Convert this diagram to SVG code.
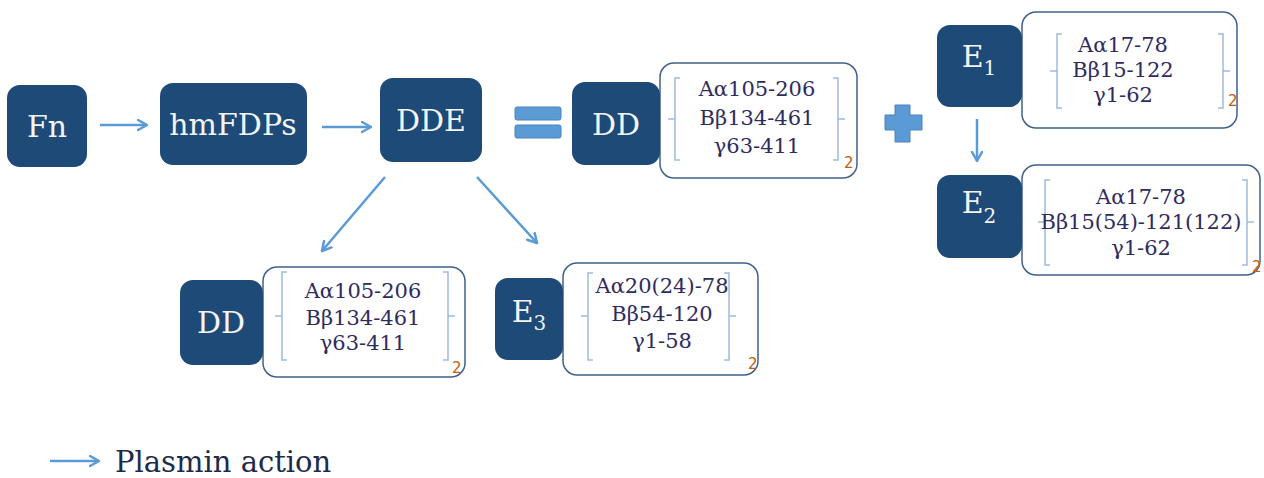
<svg xmlns="http://www.w3.org/2000/svg" width="1264" height="478" viewBox="0 0 1264 478">
<style>
.node{fill:#1e4a78;}
.lbl{font-family:"DejaVu Serif",serif;font-size:30px;fill:#f4f4f4;text-anchor:middle;}
.box{fill:#ffffff;stroke:#41618a;stroke-width:1.5;}
.br{fill:none;stroke:#9dbbe0;stroke-width:1.5;}
.seq{font-family:"DejaVu Serif",serif;font-size:21px;fill:#2f2b5e;text-anchor:middle;}
.sub2{font-family:"DejaVu Sans",sans-serif;font-size:15px;fill:#c55a11;}
.arr{fill:none;stroke:#5b9bd5;stroke-width:2.5;marker-end:url(#ah);}
.sym{fill:#5b9bd5;stroke:#4a82bd;stroke-width:1;}
.leg{font-family:"DejaVu Serif",serif;font-size:29px;fill:#1e2a4a;}
</style>
<defs>
<marker id="ah" markerUnits="userSpaceOnUse" markerWidth="14" markerHeight="14" refX="10" refY="6" orient="auto">
<path d="M1,1 L10,6 L1,11" fill="none" stroke="#5b9bd5" stroke-width="2.5" stroke-linecap="round" stroke-linejoin="round"/>
</marker>
</defs>
<rect width="1264" height="478" fill="#ffffff"/>

<g id="connectors">
<line class="arr" x1="100" y1="125" x2="147" y2="125"/>
<line class="arr" x1="322" y1="127" x2="371" y2="127"/>
<line class="arr" x1="385" y1="177" x2="322" y2="251"/>
<line class="arr" x1="477" y1="177" x2="537" y2="243"/>
<line class="arr" x1="977" y1="119" x2="977" y2="161"/>
</g>

<g id="Fn">
<rect class="node" x="7" y="85" width="80" height="82" rx="13"/>
<text class="lbl" x="47" y="137">Fn</text>
</g>

<g id="hmFDPs">
<rect class="node" x="160" y="83" width="147" height="82" rx="13"/>
<text class="lbl" x="233" y="135">hmFDPs</text>
</g>

<g id="DDE">
<rect class="node" x="380" y="78" width="102" height="84" rx="13"/>
<text class="lbl" x="431" y="131">DDE</text>
</g>

<g id="equals">
<rect class="sym" x="515" y="107" width="46" height="13" rx="2"/>
<rect class="sym" x="515" y="125" width="46" height="13" rx="2"/>
</g>

<g id="DD-top">
<rect class="box" x="660" y="63" width="197" height="115" rx="14"/>
<rect class="node" x="572" y="82" width="88" height="83" rx="13"/>
<text class="lbl" x="616" y="135">DD</text>
<path class="br" d="M680,78 H675 V160 H680 M675,119 H668 M833,78 H838 V160 H833 M838,119 H845"/>
<text class="seq" x="757" y="96">Aα105-206</text>
<text class="seq" x="757" y="125">Bβ134-461</text>
<text class="seq" x="757" y="153">γ63-411</text>
<text class="sub2" x="844" y="168">2</text>
</g>

<g id="plus">
<path class="sym" d="M895,105 H910 V115 H922 V130 H910 V142 H895 V130 H885 V115 H895 Z"/>
</g>

<g id="E1">
<rect class="box" x="1022" y="12" width="215" height="116" rx="14"/>
<rect class="node" x="937" y="25" width="85" height="82" rx="13"/>
<text class="lbl" x="979" y="67">E<tspan font-size="20" dy="8">1</tspan></text>
<path class="br" d="M1062,34 H1057 V108 H1062 M1057,71 H1050 M1218,34 H1223 V108 H1218 M1223,71 H1230"/>
<text class="seq" x="1123" y="52">Aα17-78</text>
<text class="seq" x="1123" y="77">Bβ15-122</text>
<text class="seq" x="1123" y="102">γ1-62</text>
<text class="sub2" x="1228" y="106">2</text>
</g>

<g id="E2">
<rect class="box" x="1022" y="165" width="238" height="110" rx="14"/>
<rect class="node" x="937" y="175" width="85" height="83" rx="13"/>
<text class="lbl" x="979" y="213">E<tspan font-size="20" dy="10">2</tspan></text>
<path class="br" d="M1050,180 H1045 V265 H1050 M1045,222 H1038 M1242,180 H1247 V265 H1242 M1247,222 H1254"/>
<text class="seq" x="1141" y="204">Aα17-78</text>
<text class="seq" x="1141" y="229">Bβ15(54)-121(122)</text>
<text class="seq" x="1141" y="255">γ1-62</text>
<text class="sub2" x="1252" y="272">2</text>
</g>

<g id="DD-bottom">
<rect class="box" x="263" y="267" width="202" height="110" rx="14"/>
<rect class="node" x="180" y="280" width="83" height="85" rx="13"/>
<text class="lbl" x="221" y="333">DD</text>
<path class="br" d="M287,272 H282 V360 H287 M282,316 H275 M443,272 H448 V360 H443 M448,316 H455"/>
<text class="seq" x="363" y="298">Aα105-206</text>
<text class="seq" x="363" y="325">Bβ134-461</text>
<text class="seq" x="363" y="350">γ63-411</text>
<text class="sub2" x="452" y="373">2</text>
</g>

<g id="E3">
<rect class="box" x="563" y="263" width="195" height="112" rx="14"/>
<rect class="node" x="495" y="278" width="68" height="82" rx="13"/>
<text class="lbl" x="529" y="322">E<tspan font-size="20" dy="8">3</tspan></text>
<path class="br" d="M593,273 H588 V360 H593 M588,316 H581 M724,273 H729 V360 H724 M729,316 H736"/>
<text class="seq" x="662" y="293">Aα20(24)-78</text>
<text class="seq" x="662" y="321">Bβ54-120</text>
<text class="seq" x="662" y="348">γ1-58</text>
<text class="sub2" x="748" y="369">2</text>
</g>

<g id="legend">
<line class="arr" x1="50" y1="461" x2="99" y2="461"/>
<text class="leg" x="115" y="472">Plasmin action</text>
</g>
</svg>
